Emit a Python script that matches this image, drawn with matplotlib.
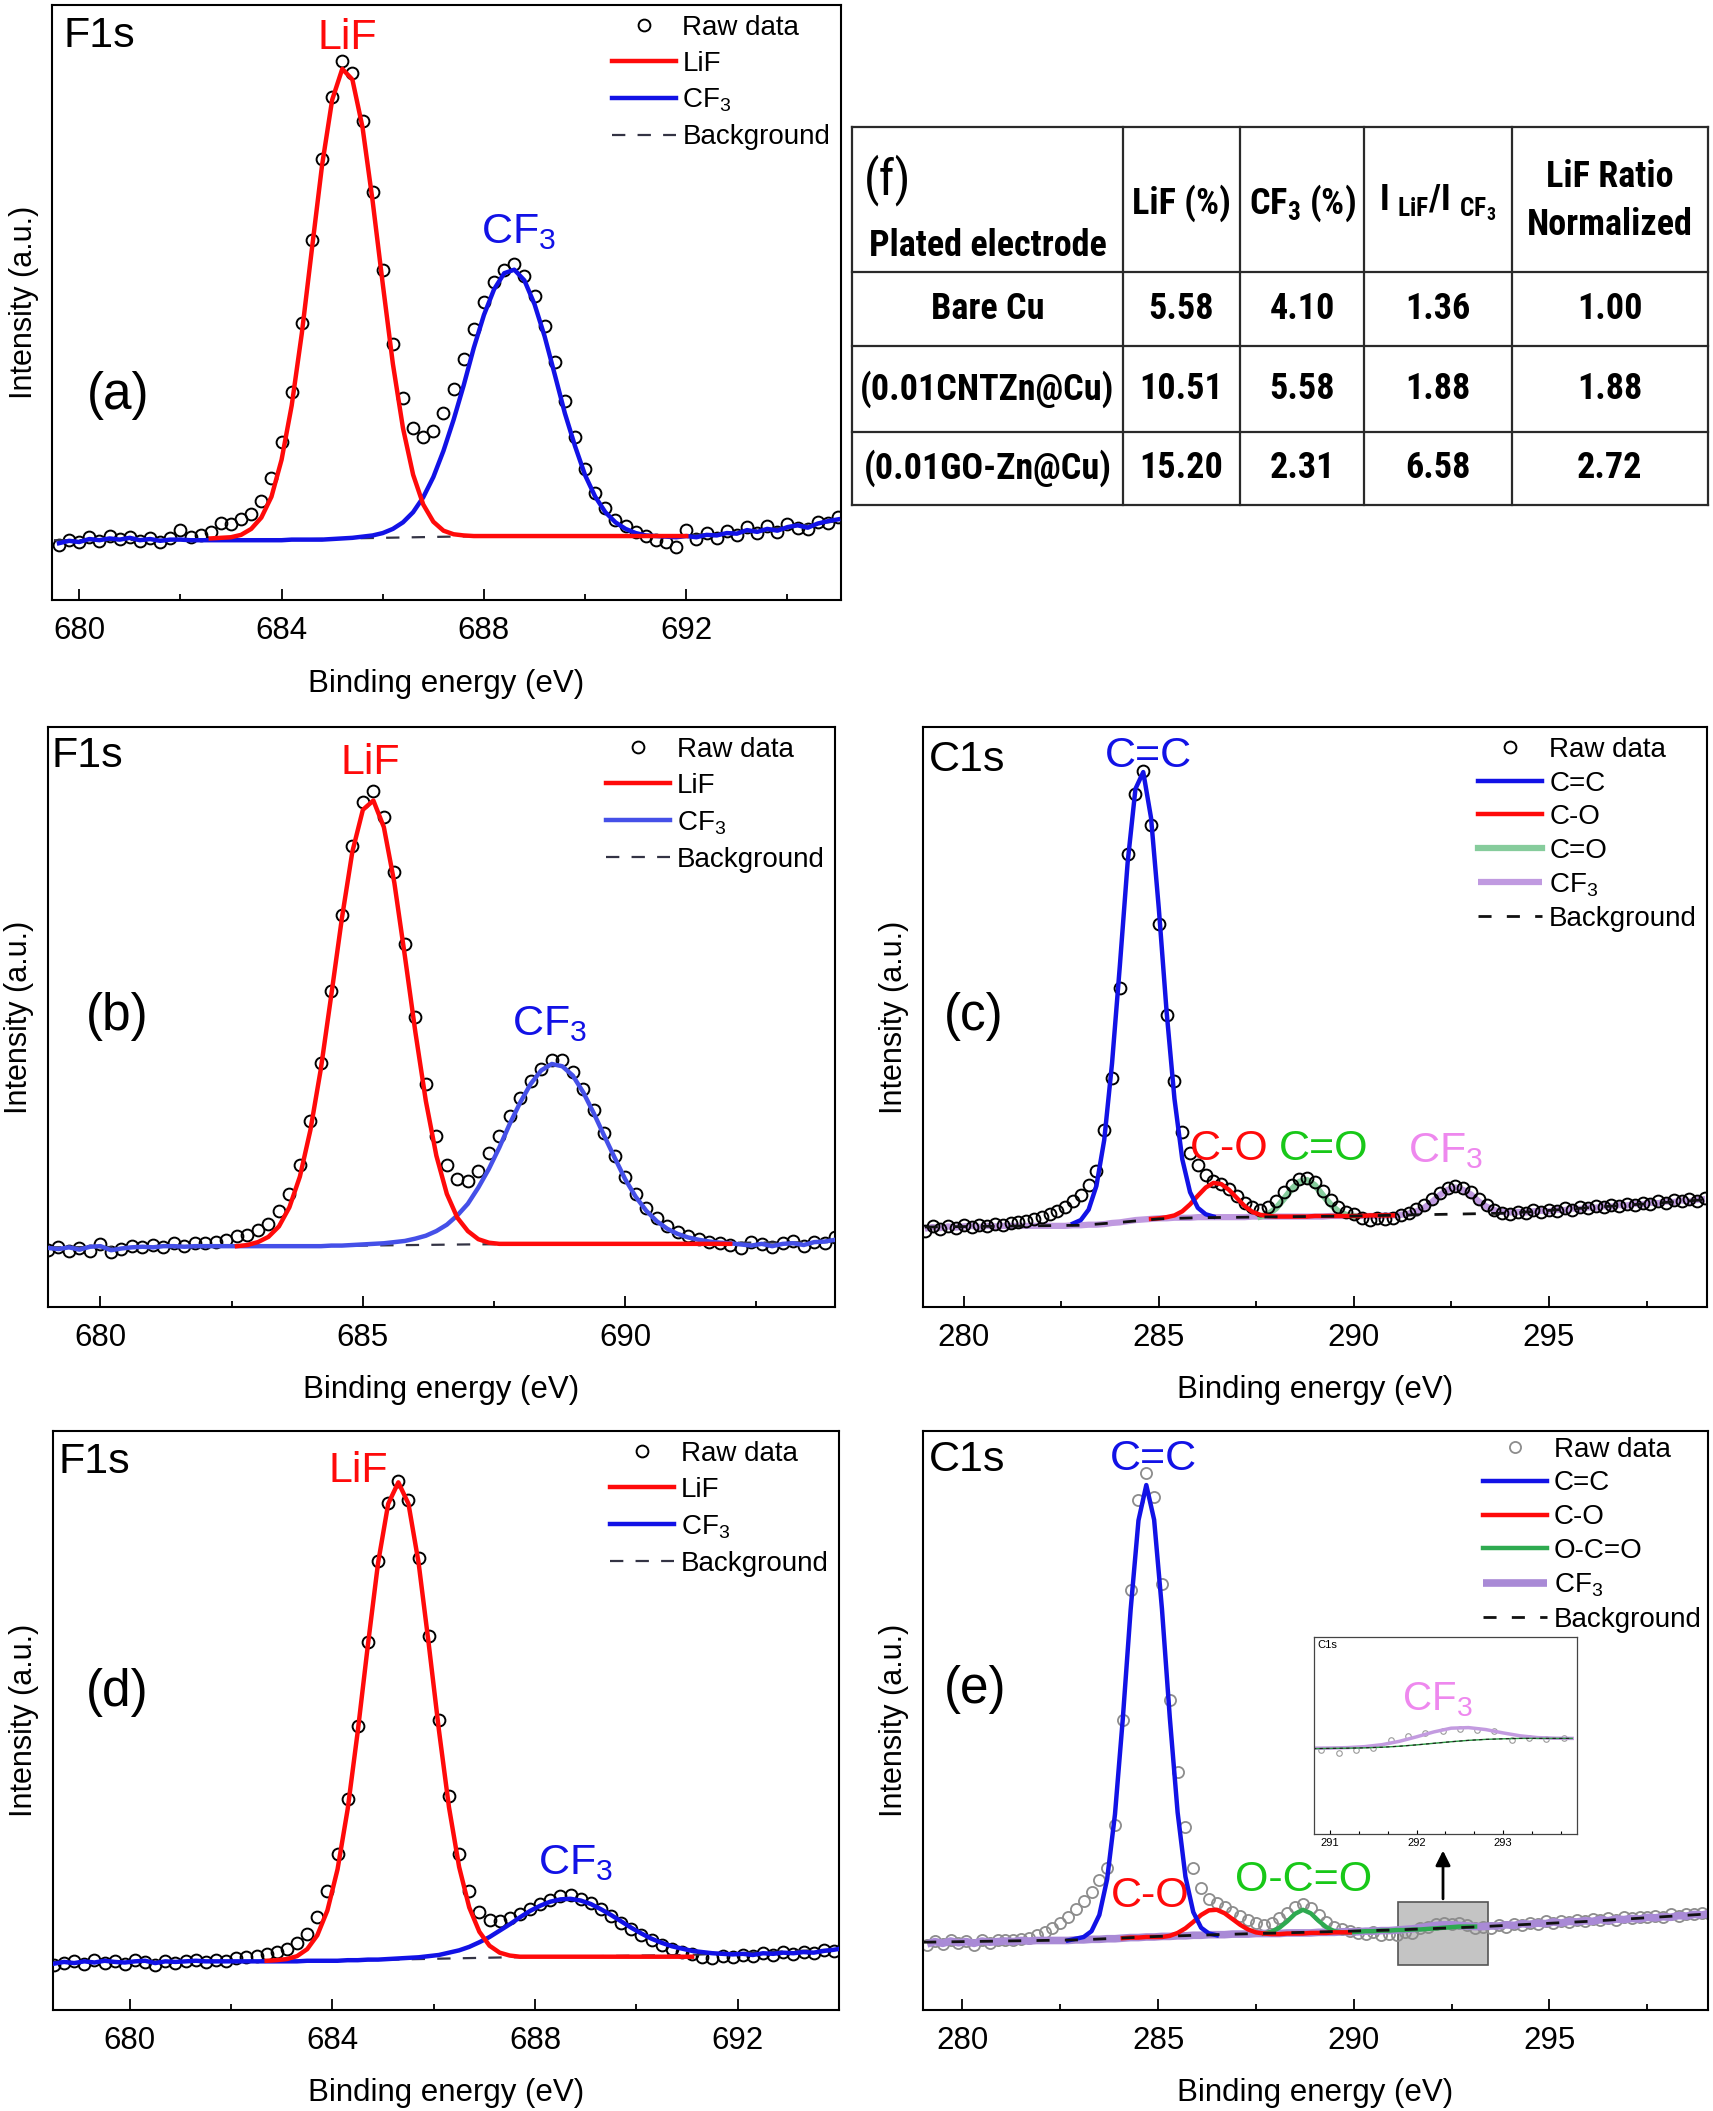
import matplotlib
matplotlib.use('Agg')
import matplotlib.pyplot as plt
import numpy as np
from matplotlib import font_manager
from matplotlib.ticker import MultipleLocator

# ---------------- data (intensity in % of panel height) ----------------
# panel (a) F1s, bare Cu
a_x0, a_step = 679.6, 0.2
raw_a = [9.3, 10.2, 9.8, 10.6, 10.0, 10.8, 10.3, 10.6, 9.9, 10.4,
         9.8, 10.5, 11.8, 10.6, 10.9, 11.5, 13.0, 12.8, 13.6, 14.5,
         16.6, 20.5, 26.5, 35.0, 46.5, 60.5, 74.0, 84.5, 90.5, 88.5,
         80.5, 68.5, 55.5, 43.0, 34.0, 29.0, 27.5, 28.5, 31.5, 35.5,
         40.5, 45.5, 50.0, 53.5, 55.5, 56.5, 54.5, 51.0, 46.0, 40.0,
         33.5, 27.5, 22.0, 18.0, 15.5, 13.5, 12.5, 11.5, 10.8, 10.2,
         9.8, 9.0, 11.8, 10.3, 11.3, 10.4, 11.6, 11.0, 12.4, 11.3,
         12.5, 11.5, 12.8, 12.2, 12.0, 13.2, 13.0, 14.0]
cf3_a = [9.6, 10.0, 9.8, 10.3, 10.1, 10.4, 10.2, 10.5, 10.1, 10.3,
         10.0, 10.2, 10.2, 10.1, 10.1, 10.1, 10.1, 10.1, 10.1, 10.1,
         10.1, 10.1, 10.1, 10.2, 10.2, 10.2, 10.2, 10.3, 10.4, 10.5,
         10.7, 10.9, 11.3, 12.0, 13.1, 14.8, 17.3, 20.7, 25.1, 30.3,
         36.1, 42.4, 47.9, 52.2, 54.9, 55.5, 53.7, 49.7, 44.3, 37.9,
         31.4, 25.9, 21.0, 17.4, 14.8, 13.1, 12.0, 11.3, 10.9, 10.8,
         10.7, 10.6, 10.8, 10.6, 11.0, 10.9, 11.3, 11.2, 11.8, 11.5,
         12.0, 11.7, 12.3, 12.6, 12.2, 12.9, 13.3, 13.6]
lif_a_x0 = 682.6
lif_a = [10.4, 10.5, 10.6, 11.0, 12.0, 13.9, 17.4, 23.6, 32.7, 44.8,
         59.0, 73.0, 84.0, 89.2, 87.4, 79.4, 67.0, 53.1, 39.7, 28.9,
         21.1, 16.1, 13.2, 11.7, 11.1, 10.9, 10.8, 10.8, 10.8, 10.8,
         10.8, 10.8, 10.8, 10.8, 10.8, 10.8, 10.8, 10.8, 10.8, 10.8,
         10.8, 10.8, 10.8, 10.8, 10.8, 10.8, 10.8, 10.8]
bg_a_x = [679.5, 684.0, 688.0, 692.0, 693.0, 694.0, 695.1]
bg_a = [10.1, 10.2, 10.8, 10.9, 11.4, 12.3, 13.4]

# panel (b) F1s, 0.01CNTZn@Cu
b_x0, b_step = 679.0, 0.2
raw_b = [9.8, 10.3, 9.6, 10.2, 9.7, 10.8, 9.5, 10.0, 10.6, 10.3,
         10.7, 10.4, 11.0, 10.6, 11.0, 11.1, 11.3, 11.5, 12.2, 12.4,
         13.3, 14.3, 16.5, 19.5, 24.5, 32.0, 42.0, 54.5, 67.5, 79.5,
         87.0, 89.0, 84.5, 75.0, 62.5, 50.0, 38.5, 29.5, 24.5, 22.0,
         21.8, 23.5, 26.5, 29.5, 33.0, 36.0, 39.0, 41.0, 42.5, 42.5,
         40.5, 37.5, 34.0, 30.0, 26.0, 22.5, 19.5, 17.0, 15.3, 14.0,
         13.0, 12.2, 11.8, 11.2, 11.0, 10.7, 10.2, 11.3, 10.9, 10.3,
         11.0, 11.4, 10.6, 11.3, 11.0, 12.0]
cf3_b = [10.2, 10.0, 10.3, 9.9, 10.4, 10.5, 9.8, 10.1, 10.3, 10.4,
         10.3, 10.5, 10.5, 10.4, 10.5, 10.5, 10.5, 10.5, 10.5, 10.5,
         10.5, 10.5, 10.5, 10.5, 10.5, 10.5, 10.5, 10.6, 10.6, 10.7,
         10.8, 10.9, 11.0, 11.2, 11.4, 11.8, 12.3, 13.1, 14.2, 15.8,
         17.8, 20.6, 23.8, 27.5, 31.6, 35.3, 38.5, 40.8, 41.9, 41.5,
         39.9, 37.0, 33.4, 29.5, 25.7, 22.0, 19.0, 16.6, 14.8, 13.5,
         12.6, 12.0, 11.6, 11.3, 11.1, 11.0, 10.8, 10.6, 10.9, 10.5,
         10.9, 11.0, 10.7, 11.2, 11.3, 11.6]
lif_b_x0 = 682.6
lif_b = [10.5, 10.7, 11.2, 12.1, 13.9, 17.2, 22.5, 30.5, 41.1, 53.9,
         67.0, 78.5, 85.7, 87.3, 82.7, 73.1, 60.5, 47.4, 35.5, 26.1,
         19.5, 15.4, 13.1, 11.7, 11.1, 10.9, 10.9, 10.9, 10.9, 10.9,
         10.9, 10.9, 10.9, 10.9, 10.9, 10.9, 10.9, 10.9, 10.9, 10.9,
         10.9, 10.9, 10.9, 10.9, 10.9, 10.9, 10.9, 10.9]
bg_b_x = [679.0, 684.0, 687.0, 694.0]
bg_b = [10.3, 10.5, 10.8, 11.2]

# panel (d) F1s, 0.01GO-Zn@Cu
d_x0, d_step = 678.5, 0.2
raw_d = [7.7, 8.2, 8.5, 8.0, 8.6, 8.1, 8.4, 7.9, 8.6, 8.3,
         7.8, 8.5, 8.2, 8.4, 8.7, 8.3, 8.6, 8.5, 8.9, 9.2,
         9.4, 9.6, 10.0, 10.6, 11.6, 13.2, 16.0, 20.5, 27.0, 36.5,
         49.0, 63.5, 77.5, 87.5, 91.3, 88.0, 78.0, 64.5, 50.0, 37.0,
         27.0, 20.5, 17.0, 15.5, 15.3, 15.8, 16.6, 17.4, 18.3, 19.0,
         19.6, 19.8, 19.2, 18.4, 17.4, 16.3, 15.1, 14.0, 13.0, 12.0,
         11.2, 10.6, 10.0, 9.6, 9.2, 9.0, 9.3, 9.1, 9.5, 9.3,
         9.8, 9.5, 10.0, 9.7, 10.1, 9.8, 10.3, 10.2, 11.0]
cf3_d = [8.0, 8.3, 8.1, 8.4, 8.2, 8.5, 8.3, 8.2, 8.4, 8.5,
         8.1, 8.4, 8.3, 8.4, 8.5, 8.4, 8.4, 8.4, 8.4, 8.4,
         8.4, 8.4, 8.4, 8.4, 8.4, 8.5, 8.5, 8.5, 8.5, 8.6,
         8.6, 8.7, 8.7, 8.8, 8.9, 9.0, 9.1, 9.3, 9.5, 9.9,
         10.3, 10.9, 11.7, 12.6, 13.7, 14.8, 16.0, 17.1, 18.0, 18.7,
         19.1, 19.2, 18.9, 18.3, 17.4, 16.4, 15.3, 14.2, 13.2, 12.3,
         11.6, 11.0, 10.6, 10.2, 10.0, 9.8, 9.7, 9.6, 9.7, 9.5,
         9.8, 9.7, 9.9, 9.8, 10.0, 9.9, 10.2, 10.4, 10.7]
lif_d_x0 = 682.7
lif_d = [8.5, 8.6, 8.8, 9.3, 10.5, 12.9, 17.2, 24.3, 34.7, 48.2,
         63.1, 77.2, 87.4, 91.1, 87.4, 77.2, 63.2, 48.4, 35.0, 24.7,
         17.7, 13.5, 11.1, 9.9, 9.4, 9.2, 9.2, 9.2, 9.2, 9.2,
         9.2, 9.2, 9.2, 9.2, 9.2, 9.2, 9.2, 9.2, 9.2, 9.2,
         9.2, 9.2, 9.2]
bg_d_x = [678.5, 684.0, 687.5, 691.0, 694.1]
bg_d = [8.3, 8.5, 9.1, 9.5, 10.5]

# panel (c) C1s, 0.01CNTZn@Cu
c_x0, c_step = 279.0, 0.2
raw_c = [13.2, 13.9, 13.4, 14.0, 13.6, 14.1, 13.8, 14.2, 13.9, 14.3,
         14.2, 14.5, 14.6, 14.9, 15.2, 15.6, 16.0, 16.6, 17.3, 18.2,
         19.4, 21.0, 23.5, 30.5, 39.5, 55.0, 78.0, 88.5, 92.3, 83.0,
         66.0, 50.4, 39.0, 30.2, 26.5, 24.5, 22.8, 21.8, 21.2, 20.3,
         19.2, 18.0, 17.2, 16.8, 17.2, 18.3, 19.8, 21.0, 22.0, 22.3,
         21.5, 20.0, 18.4, 17.2, 16.4, 16.0, 15.4, 15.0, 15.3, 15.1,
         15.4, 15.8, 16.3, 16.9, 17.6, 18.6, 19.7, 20.5, 20.9, 20.6,
         19.8, 18.6, 17.6, 16.8, 16.3, 16.0, 16.4, 16.2, 16.7, 16.4,
         16.8, 16.6, 17.0, 16.8, 17.2, 17.0, 17.4, 17.2, 17.6, 17.5,
         17.8, 17.6, 18.0, 17.8, 18.2, 18.0, 18.4, 18.2, 18.6, 18.3,
         18.8]
cc_c_x0 = 282.8
cc_c = [14.4, 15.0, 16.8, 20.9, 28.8, 42.0, 58.8, 76.6, 89.3, 92.2,
        84.3, 68.6, 50.8, 35.9, 25.5, 19.8, 17.1, 16.0, 15.6]
co_c_x0 = 284.8
co_c = [15.2, 15.3, 15.5, 15.8, 16.5, 17.7, 19.2, 20.6, 21.4, 21.2,
        20.2, 18.8, 17.4, 16.4, 15.9, 15.7, 15.6, 15.6, 15.6, 15.6,
        15.6, 15.7, 15.7, 15.7, 15.7, 15.7, 15.7, 15.7, 15.8, 15.8,
        15.8, 15.8]
c2o_c_x0 = 287.6
c2o_c = [15.6, 16.0, 17.0, 18.6, 20.3, 21.6, 21.9, 21.0, 19.3, 17.7,
         16.5, 15.9, 15.7]
cf3_c = [13.5, 13.8, 13.6, 13.9, 13.7, 13.9, 14.0, 13.8, 14.0, 13.9,
         14.0, 14.0, 14.0, 14.0, 14.0, 14.0, 14.0, 14.0, 14.0, 14.1,
         14.1, 14.2, 14.2, 14.3, 14.5, 14.6, 14.8, 15.0, 15.1, 15.2,
         15.3, 15.3, 15.4, 15.4, 15.4, 15.5, 15.5, 15.5, 15.5, 15.5,
         15.5, 15.5, 15.6, 15.6, 15.6, 15.6, 15.6, 15.6, 15.6, 15.6,
         15.6, 15.6, 15.7, 15.7, 15.7, 15.7, 15.7, 15.7, 15.7, 15.8,
         15.8, 15.9, 16.1, 16.5, 17.1, 18.1, 19.3, 20.2, 20.6, 20.2,
         19.4, 18.2, 17.3, 16.7, 16.4, 16.3, 16.4, 16.3, 16.5, 16.6,
         16.5, 16.8, 16.7, 17.0, 16.9, 17.2, 17.1, 17.4, 17.3, 17.6,
         17.5, 17.8, 17.7, 18.0, 17.9, 18.2, 18.1, 18.4, 18.2, 18.5,
         18.6]
bg_c_x = [279.0, 283.0, 284.0, 285.0, 286.0, 290.0, 294.0, 299.0]
bg_c = [13.8, 14.1, 14.6, 15.2, 15.4, 15.7, 16.2, 18.5]

# panel (e) C1s, 0.01GO-Zn@Cu
e_x0, e_step = 279.1, 0.2
raw_e = [11.2, 11.9, 11.4, 12.1, 11.5, 11.9, 11.3, 12.0, 11.6, 12.0,
         12.1, 12.0, 12.3, 12.5, 12.9, 13.4, 14.1, 15.0, 16.1, 17.4,
         18.8, 20.3, 22.4, 24.5, 32.0, 50.0, 72.5, 88.0, 92.6, 88.5,
         73.5, 53.5, 41.0, 31.5, 24.5, 21.0, 19.2, 18.4, 17.8, 16.9,
         16.3, 15.6, 15.0, 14.7, 15.0, 15.8, 16.8, 17.8, 18.3, 17.6,
         16.4, 15.2, 14.4, 14.0, 13.6, 13.3, 13.1, 13.4, 13.0, 13.2,
         13.0, 13.5, 13.3, 14.1, 14.4, 14.9, 15.0, 14.8, 15.0, 14.6,
         14.2, 14.4, 14.1, 14.6, 14.4, 14.9, 14.7, 15.1, 14.8, 15.3,
         15.0, 15.4, 15.2, 15.6, 15.3, 15.7, 15.5, 15.8, 15.6, 16.0,
         15.8, 16.1, 16.0, 16.3, 16.1, 16.5, 16.3, 16.6, 16.5, 16.8,
         16.6]
cc_e_x0 = 282.7
cc_e = [12.0, 12.3, 12.6, 13.6, 16.4, 22.6, 33.8, 50.3, 69.1, 84.5,
        90.6, 84.6, 69.2, 50.5, 34.1, 23.0, 16.9, 14.2, 13.2, 12.9]
co_e_x0 = 284.1
co_e = [12.4, 12.5, 12.5, 12.6, 12.6, 12.6, 12.8, 13.3, 14.1, 15.2,
        16.4, 17.2, 17.3, 16.7, 15.7, 14.7, 13.9, 13.4, 13.2, 13.1,
        13.1, 13.2, 13.2, 13.2, 13.3, 13.3, 13.3, 13.4, 13.4, 13.4]
oco_e_x0 = 287.7
oco_e = [13.2, 13.5, 14.2, 15.3, 16.6, 17.3, 16.7, 15.4, 14.3, 13.6,
         13.4, 13.4, 13.5, 13.6, 13.6, 13.7, 13.7, 13.8, 13.8, 13.9,
         13.9, 14.0, 14.1, 14.2, 14.3, 14.4, 14.4, 14.4]
cf3_e = [11.4, 11.8, 11.5, 11.9, 11.6, 11.8, 11.5, 11.9, 11.7, 11.8,
         11.9, 11.8, 12.0, 11.9, 12.0, 12.0, 12.0, 12.0, 12.0, 12.1,
         12.1, 12.2, 12.2, 12.3, 12.3, 12.4, 12.5, 12.5, 12.6, 12.6,
         12.7, 12.7, 12.8, 12.8, 12.9, 12.9, 13.0, 13.0, 13.0, 13.1,
         13.1, 13.1, 13.2, 13.2, 13.2, 13.2, 13.3, 13.3, 13.3, 13.3,
         13.4, 13.4, 13.4, 13.5, 13.5, 13.5, 13.6, 13.6, 13.7, 13.7,
         13.8, 13.9, 14.0, 14.2, 14.4, 14.6, 14.7, 14.7, 14.6, 14.5,
         14.4, 14.4, 14.5, 14.5, 14.7, 14.6, 14.9, 14.8, 15.0, 14.9,
         15.2, 15.0, 15.3, 15.2, 15.4, 15.3, 15.6, 15.4, 15.7, 15.6,
         15.8, 15.7, 16.0, 15.9, 16.1, 16.0, 16.3, 16.2, 16.5, 16.4,
         16.7]
bg_e_x = [279.0, 283.0, 285.0, 287.0, 291.0, 293.0, 296.0, 299.1]
bg_e = [11.7, 12.1, 12.7, 13.1, 13.8, 14.3, 15.3, 16.6]

# inset of (e): zoom on the CF3 region
in_x0, in_step = 290.8, 0.2
in_cf3 = [43.5, 43.6, 43.8, 44.3, 45.3, 47.0, 49.3, 51.8, 53.7, 54.0,
          53.0, 51.3, 49.8, 48.9, 48.6, 48.5]
in_oco = [43.3, 43.4, 43.5, 43.7, 44.0, 44.5, 45.2, 46.0, 46.8, 47.5,
          48.0, 48.3, 48.5, 48.5, 48.5, 48.5]
in_raw_x0 = 290.9
in_raw = [42.5, 41.0, 42.5, 43.5, 47.5, 49.5, 51.5, 52.5, 53.5, 53.0,
          52.5, 47.5, 48.5, 48.3, 48.6]

# table (f)
tab_rows = ['Bare Cu', '(0.01CNTZn@Cu)', '(0.01GO-Zn@Cu)']
tab_lif = ['5.58', '10.51', '15.20']
tab_cf3 = ['4.10', '5.58', '2.31']
tab_ratio = ['1.36', '1.88', '6.58']
tab_norm = ['1.00', '1.88', '2.72']

# ---------------- fonts ----------------
avail = {f.name for f in font_manager.fontManager.ttflist}
main_font = 'Liberation Sans' if 'Liberation Sans' in avail else 'DejaVu Sans'
tab_font = None
for f in ['Liberation Sans Narrow', 'Roboto Condensed', 'Open Sans Condensed']:
    if f in avail:
        tab_font = f
        break
tab_size = 26
if tab_font is None:
    tab_font = main_font
    tab_size = 22

plt.rcParams['font.family'] = [main_font, 'DejaVu Sans']
plt.rcParams['mathtext.fontset'] = 'custom'
plt.rcParams['mathtext.rm'] = main_font
plt.rcParams['mathtext.it'] = main_font + ':italic'
plt.rcParams['mathtext.bf'] = tab_font + ':bold'

RED = '#ff0a0a'
BLUE = '#1212e6'
BLUE_B = '#4550e8'
LAB = 31     # peak labels
TAG = 37     # (a), (b) ...

W, H = 1713, 2111
fig = plt.figure(figsize=(W / 100, H / 100), dpi=100)


def xs(x0, step, vals):
    return x0 + step * np.arange(len(vals))


def frame(ax, xlim, major, minor):
    ax.set_xlim(*xlim)
    ax.set_ylim(0, 100)
    ax.set_yticks([])
    ax.xaxis.set_major_locator(MultipleLocator(major))
    ax.xaxis.set_minor_locator(MultipleLocator(minor))
    ax.tick_params(axis='x', which='major', direction='in', length=8,
                   width=1.3, labelsize=22.5, pad=11.5)
    ax.tick_params(axis='x', which='minor', direction='in', length=4.5, width=1.3)
    for s in ax.spines.values():
        s.set_linewidth(1.5)
    ax.set_xlabel('Binding energy (eV)', fontsize=22.5, labelpad=16)
    ax.set_ylabel('Intensity (a.u.)', fontsize=22, labelpad=10)


def legend(ax, handles, pad=0.25, spacing=0.36):
    ax.legend(handles=handles, loc='upper right', bbox_to_anchor=(1.0, 1.0),
              frameon=False, fontsize=20, handlelength=2.3, handletextpad=0.25,
              labelspacing=spacing, borderaxespad=pad, borderpad=0.12)


def f1s_panel(rect, x0, raw, cf3, lif_x0, lif, bg_x, bg, xlim, major, minor,
              cf3_col, tag, tag_pos, lif_pos, cf3_pos, core_pos):
    ax = fig.add_axes(rect)
    frame(ax, xlim, major, minor)
    hr, = ax.plot(xs(x0, 0.2, raw), raw, 'o', mfc='none', mec='k', ms=8.5,
                  mew=1.4, zorder=2, label='Raw data')
    hb, = ax.plot(bg_x, bg, color='#333344', lw=1.6, ls=(0, (6, 5.5)),
                  zorder=2.5, label='Background')
    hc, = ax.plot(xs(x0, 0.2, cf3), cf3, color=cf3_col, lw=3.2, zorder=3,
                  label='CF$_3$')
    hl, = ax.plot(xs(lif_x0, 0.2, lif), lif, color=RED, lw=3.2, zorder=3.1,
                  label='LiF')
    legend(ax, [hr, hl, hc, hb])
    ax.text(*core_pos, 'F1s', fontsize=LAB, ha='left', va='baseline')
    ax.text(*lif_pos, 'LiF', fontsize=LAB, color=RED, ha='center', va='baseline')
    ax.text(*cf3_pos, 'CF$_3$', fontsize=LAB, color=BLUE, ha='center', va='baseline')
    ax.text(*tag_pos, tag, fontsize=TAG, ha='center', va='baseline')
    return ax


# (a)
f1s_panel([52.4 / W, 1 - 600.4 / H, 788.2 / W, 595.9 / H], a_x0, raw_a, cf3_a,
          lif_a_x0, lif_a, bg_a_x, bg_a, (679.47, 695.05), 4, 2, BLUE, '(a)',
          (680.76, 32.2), (685.3, 92.5), (688.68, 59.9), (679.68, 92.9))
# (b)
f1s_panel([48.0 / W, 1 - 1307.1 / H, 787.2 / W, 580.3 / H], b_x0, raw_b, cf3_b,
          lif_b_x0, lif_b, bg_b_x, bg_b, (679.0, 694.0), 5, 2.5, BLUE_B, '(b)',
          (680.31, 47.7), (685.15, 91.9), (688.55, 46.9), (679.06, 93.1))
# (d)
f1s_panel([52.9 / W, 1 - 2010.0 / H, 786.1 / W, 579.2 / H], d_x0, raw_d, cf3_d,
          lif_d_x0, lif_d, bg_d_x, bg_d, (678.48, 694.0), 4, 2, BLUE, '(d)',
          (679.75, 52.5), (684.5, 91.2), (688.8, 23.5), (678.6, 92.8))

# (c)
ax = fig.add_axes([923.2 / W, 1 - 1307.1 / H, 784.2 / W, 580.3 / H])
frame(ax, (278.96, 299.06), 5, 2.5)
h4, = ax.plot(xs(c_x0, c_step, cf3_c), cf3_c, color='#c09ae0', lw=4.5, zorder=2,
              solid_capstyle='butt', label='CF$_3$')
h3, = ax.plot(xs(c2o_c_x0, 0.2, c2o_c), c2o_c, color='#86cc9c', lw=4.5, zorder=2.1,
              label='C=O')
h0, = ax.plot(xs(c_x0, c_step, raw_c), raw_c, 'o', mfc='none', mec='k', ms=8.5,
              mew=1.4, zorder=3, label='Raw data')
h2, = ax.plot(xs(co_c_x0, 0.2, co_c), co_c, color=RED, lw=3.2, zorder=4, label='C-O')
h1, = ax.plot(xs(cc_c_x0, 0.2, cc_c), cc_c, color=BLUE, lw=3.2, zorder=4.1, label='C=C')
h5, = ax.plot(bg_c_x, bg_c, color='#111111', lw=2.0, ls=(0, (4.7, 5.5)), zorder=5,
              label='Background')
legend(ax, [h0, h1, h2, h3, h4, h5], spacing=0.27)
ax.text(279.1, 92.3, 'C1s', fontsize=LAB, ha='left', va='baseline')
ax.text(284.73, 93.1, 'C=C', fontsize=LAB, color=BLUE, ha='center', va='baseline')
ax.text(286.81, 25.4, 'C-O', fontsize=LAB, color=RED, ha='center', va='baseline')
ax.text(289.22, 25.4, 'C=O', fontsize=LAB, color='#18c818', ha='center', va='baseline')
ax.text(292.34, 25.0, 'CF$_3$', fontsize=LAB, color='#ee88ee', ha='center', va='baseline')
ax.text(280.25, 47.7, '(c)', fontsize=TAG, ha='center', va='baseline')

# (e)
ax = fig.add_axes([922.8 / W, 1 - 2010.0 / H, 785.2 / W, 579.4 / H])
frame(ax, (278.99, 299.05), 5, 2.5)
ax.add_patch(plt.Rectangle((291.14, 7.8), 2.29, 10.9, facecolor='#c4c4c4',
                           edgecolor='#555555', lw=1.2, zorder=1.5))
ax.annotate('', xy=(292.28, 28.0), xytext=(292.28, 18.7),
            arrowprops=dict(arrowstyle='-|>', color='k', lw=2, mutation_scale=22),
            zorder=6)
h0, = ax.plot(xs(e_x0, e_step, raw_e), raw_e, 'o', mfc='none', mec='#8c8c8c',
              ms=8, mew=1.3, zorder=2, label='Raw data')
h4, = ax.plot(xs(e_x0, e_step, cf3_e), cf3_e, color='#a98ad6', lw=5.5, zorder=2.2,
              solid_capstyle='butt', label='CF$_3$')
h3, = ax.plot(xs(oco_e_x0, 0.2, oco_e), oco_e, color='#2eaa50', lw=3.2, zorder=2.4,
              label='O-C=O')
h2, = ax.plot(xs(co_e_x0, 0.2, co_e), co_e, color=RED, lw=3.2, zorder=3, label='C-O')
h1, = ax.plot(xs(cc_e_x0, 0.2, cc_e), cc_e, color=BLUE, lw=3.2, zorder=3.1, label='C=C')
h5, = ax.plot(bg_e_x, bg_e, color='#111111', lw=2.0, ls=(0, (4.7, 5.5)), zorder=3.5,
              label='Background')
legend(ax, [h0, h1, h2, h3, h4, h5], pad=0.1, spacing=0.28)
ax.text(279.14, 93.1, 'C1s', fontsize=LAB, ha='left', va='baseline')
ax.text(284.87, 93.2, 'C=C', fontsize=LAB, color=BLUE, ha='center', va='baseline')
ax.text(284.8, 17.8, 'C-O', fontsize=LAB, color=RED, ha='center', va='baseline')
ax.text(288.73, 20.6, 'O-C=O', fontsize=LAB, color='#18c818', ha='center', va='baseline')
ax.text(280.33, 53.0, '(e)', fontsize=TAG, ha='center', va='baseline')

# inset of (e)
ins = fig.add_axes([1313.7 / W, 1 - 1833.6 / H, 262.8 / W, 196.3 / H])
ins.set_xlim(290.81, 293.85)
ins.set_ylim(0, 100)
ins.set_yticks([])
ins.xaxis.set_major_locator(MultipleLocator(1))
ins.xaxis.set_minor_locator(MultipleLocator(1 / 3))
ins.tick_params(axis='x', which='major', direction='in', length=3, width=0.8,
                labelsize=8, pad=3)
ins.tick_params(axis='x', which='minor', direction='in', length=2, width=0.8)
for s in ins.spines.values():
    s.set_linewidth(0.9)
    s.set_color('#444444')
ins.plot(xs(in_raw_x0, 0.2, in_raw), in_raw, 'o', mfc='none', mec='#9a9a9a',
         ms=4, mew=0.8)
ins.plot(xs(in_x0, in_step, in_cf3), in_cf3, color='#c39be0', lw=2.5)
ins.plot(xs(in_x0, in_step, in_oco), in_oco, color='#2a9a40', lw=1.0)
ins.plot(xs(in_x0, in_step, in_oco), in_oco, color='#222222', lw=0.8, ls=(0, (3, 3)))
ins.text(0.015, 0.985, 'C1s', transform=ins.transAxes, fontsize=8, ha='left', va='top')
ins.text(292.24, 63.0, 'CF$_3$', fontsize=29, color='#ee88ee', ha='center', va='baseline')

# table (f)
tab = fig.add_axes([852 / W, 1 - 505 / H, (1708 - 852) / W, (505 - 127) / H])
tab.set_xlim(852, 1708)
tab.set_ylim(505, 127)
tab.axis('off')
cols = [852, 1123, 1240, 1364.5, 1512, 1708]
rows = [127, 272, 346, 431.5, 505]
for yy in rows:
    tab.plot([cols[0], cols[-1]], [yy, yy], color='#2a2a2a', lw=1.6, clip_on=False)
for xx in cols:
    tab.plot([xx, xx], [rows[0], rows[-1]], color='#2a2a2a', lw=1.6, clip_on=False)
tf = dict(family=[tab_font, 'DejaVu Sans'], fontsize=tab_size, fontweight='bold',
          ha='center', va='center')
tab.text(864, 180, '(f)', family=[tab_font, 'DejaVu Sans'], fontsize=tab_size + 10,
         ha='left', va='center')
tab.text(987.5, 246, 'Plated electrode', **tf)
tab.text(1181.5, 203, 'LiF (%)', **tf)
tab.text(1302, 203, r'CF$_{\mathbf{3}}$ (%)', **tf)
tab.text(1438, 203, r'I $_{\mathbf{LiF}}$/I $_{\mathbf{CF_3}}$', **tf)
tab.text(1610, 177, 'LiF Ratio', **tf)
tab.text(1610, 225, 'Normalized', **tf)
centers_x = [(cols[i] + cols[i + 1]) / 2 for i in range(5)]
for r in range(3):
    yc = (rows[r + 1] + rows[r + 2]) / 2
    for c, txt in enumerate([tab_rows[r], tab_lif[r], tab_cf3[r], tab_ratio[r], tab_norm[r]]):
        tab.text(centers_x[c], yc, txt, **tf)

fig.savefig('out.png', dpi=100)
